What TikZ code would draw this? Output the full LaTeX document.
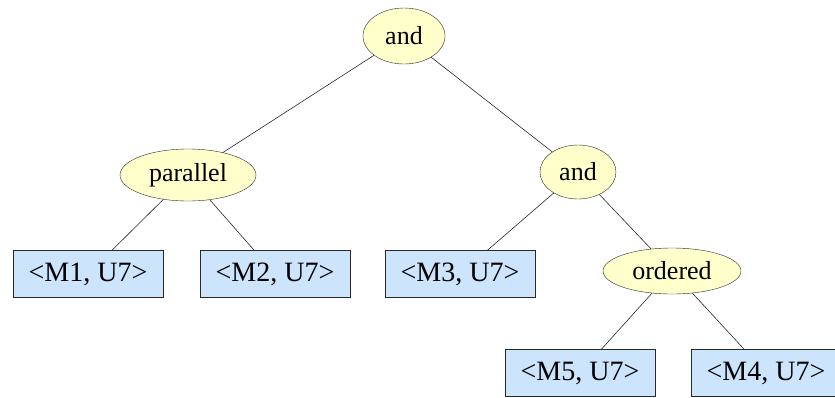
\documentclass[tikz,border=0pt]{standalone}
\usepackage{fontspec}
\setmainfont{Liberation Serif}
\usetikzlibrary{shapes.geometric}
\definecolor{ellfill}{RGB}{255,255,204}
\definecolor{boxfill}{RGB}{204,228,252}
\definecolor{linecol}{RGB}{40,40,40}
\begin{document}
\begin{tikzpicture}[x=1pt,y=-1pt,
  op/.style={ellipse,draw=linecol,fill=ellfill,inner sep=0pt,font=\fontsize{26}{28}\selectfont},
  leaf/.style={rectangle,draw=linecol,fill=boxfill,minimum width=150pt,minimum height=47pt,inner sep=0pt,font=\fontsize{28}{30}\selectfont},
  edge/.style={draw=linecol,line width=0.6pt}]
\useasboundingbox (0,0) rectangle (835,397);
\node[op,minimum width=82pt,minimum height=56pt] (root) at (404,36) {and};
\node[op,minimum width=136pt,minimum height=52pt] (par) at (188,175) {parallel};
\node[op,minimum width=76pt,minimum height=54pt] (and2) at (578,172) {and};
\node[op,minimum width=138pt,minimum height=46pt] (ord) at (672,271) {ordered};
\node[leaf] (m1) at (88,274) {<M1, U7>};
\node[leaf] (m2) at (275,274) {<M2, U7>};
\node[leaf] (m3) at (460,274) {<M3, U7>};
\node[leaf] (m5) at (580,373) {<M5, U7>};
\node[leaf] (m4) at (766,373) {<M4, U7>};
\draw[edge] (root) -- (par);
\draw[edge] (root) -- (and2);
\draw[edge] (par) -- (m1);
\draw[edge] (par) -- (m2);
\draw[edge] (and2) -- (m3);
\draw[edge] (and2) -- (ord);
\draw[edge] (ord) -- (m5);
\draw[edge] (ord) -- (m4);
\end{tikzpicture}
\end{document}
